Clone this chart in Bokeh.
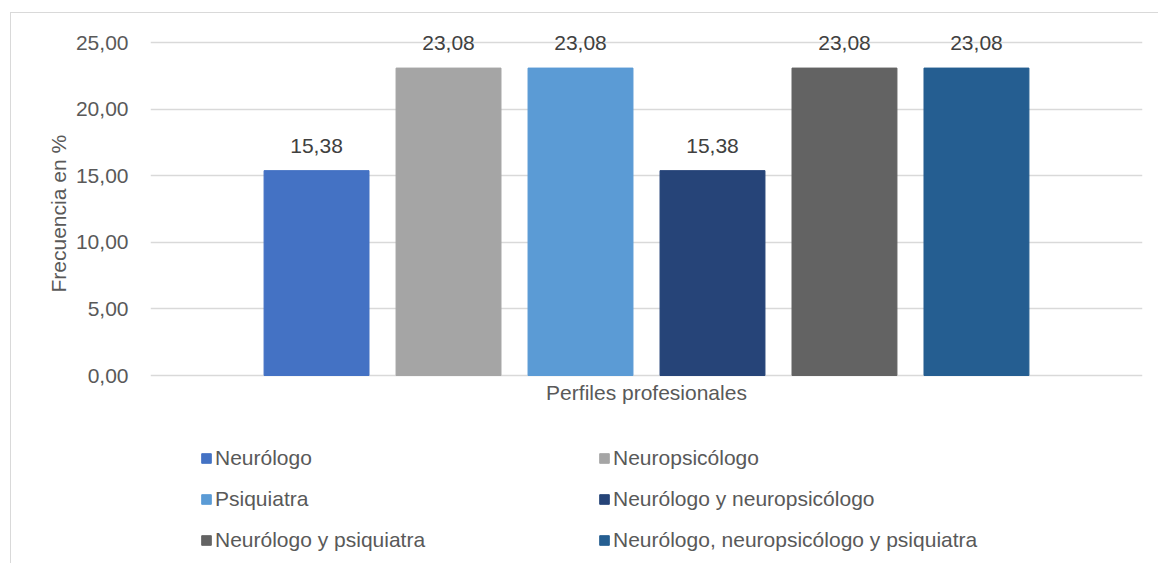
from bokeh.plotting import figure
from bokeh.models import ColumnDataSource, Legend, LegendItem, FixedTicker, Range1d, Label, Title
from bokeh.core.properties import value
from bokeh.embed import file_html
from bokeh.resources import INLINE

categories = ["Neurólogo", "Neuropsicólogo", "Psiquiatra",
              "Neurólogo y neuropsicólogo", "Neurólogo y psiquiatra",
              "Neurólogo, neuropsicólogo y psiquiatra"]
values = [15.38, 23.08, 23.08, 15.38, 23.08, 23.08]
colors = ["#4472C4", "#A5A5A5", "#5B9BD5", "#264478", "#636363", "#255E91"]
y_ticks = [0, 5, 10, 15, 20, 25]
y_tick_labels = ["0,00", "5,00", "10,00", "15,00", "20,00", "25,00"]
x_title = "Perfiles profesionales"
y_title = "Frecuencia en %"

FONT = "Liberation Sans"
FS = "21px"
GREY = "#595959"

xs = list(range(len(categories)))
src = ColumnDataSource(dict(
    x=xs, top=values, color=colors, cat=categories,
    lbl=[f"{v:.2f}".replace(".", ",") for v in values],
))

# plot frame extends beyond the value axis (above for labels, below for legend)
y_max = y_ticks[-1]
ppu = (375 - 42) / y_max
y_lo = -(563 - 375) / ppu
y_hi = y_max + (42 - 13) / ppu

p = figure(width=1147, height=550, x_range=Range1d(-1.258, 6.258),
           y_range=Range1d(y_lo, y_hi), output_backend="svg", toolbar_location=None,
           min_border_left=139, min_border_right=16, min_border_top=0,
           min_border_bottom=0, outline_line_color=None,
           margin=(13, 0, 0, 11), styles={"outline": "1px solid #d9d9d9"})

r = p.vbar(x="x", top="top", width=0.795, color="color", source=src)
p.text(x="x", y="top", text="lbl", source=src, text_align="center",
       text_baseline="alphabetic", y_offset=-25, text_font=value(FONT),
       text_font_size=FS, text_color="#404040")

p.xgrid.grid_line_color = None
p.ygrid.grid_line_color = "#D9D9D9"
p.ygrid.grid_line_width = 1.3
p.ygrid.ticker = FixedTicker(ticks=y_ticks)

p.yaxis.ticker = FixedTicker(ticks=y_ticks)
p.yaxis.major_label_overrides = dict(zip(y_ticks, y_tick_labels))
p.yaxis.axis_line_color = None
p.yaxis.major_tick_line_color = None
p.yaxis.minor_tick_line_color = None
p.yaxis.major_label_standoff = 16
p.yaxis.major_label_text_font = FONT
p.yaxis.major_label_text_font_size = FS
p.yaxis.major_label_text_color = GREY

p.xaxis.visible = False

p.add_layout(Title(text=y_title, align="left", offset=271, text_font=FONT,
                   text_font_size=FS, text_font_style="normal",
                   text_color=GREY, standoff=6), "left")

p.add_layout(Label(x=sum(xs) / len(xs), y=0, text=x_title, text_align="center",
                   text_baseline="alphabetic", y_offset=-17, text_font=FONT,
                   text_font_size=FS, text_color=GREY))

def make_legend(idx, loc):
    items = [LegendItem(label=categories[i], renderers=[r], index=i) for i in idx]
    return Legend(items=items, location=loc, orientation="vertical",
                  label_text_font=FONT, label_text_font_size=FS,
                  label_text_color=GREY, glyph_width=12, glyph_height=12,
                  label_standoff=3, padding=0, margin=0, spacing=0,
                  label_height=41, border_line_color=None,
                  background_fill_alpha=0)

p.add_layout(make_legend([0, 2, 4], (50, 2.5)))
p.add_layout(make_legend([1, 3, 5], (448, 2.5)))

open("out.html", "w").write(file_html(p, INLINE))
